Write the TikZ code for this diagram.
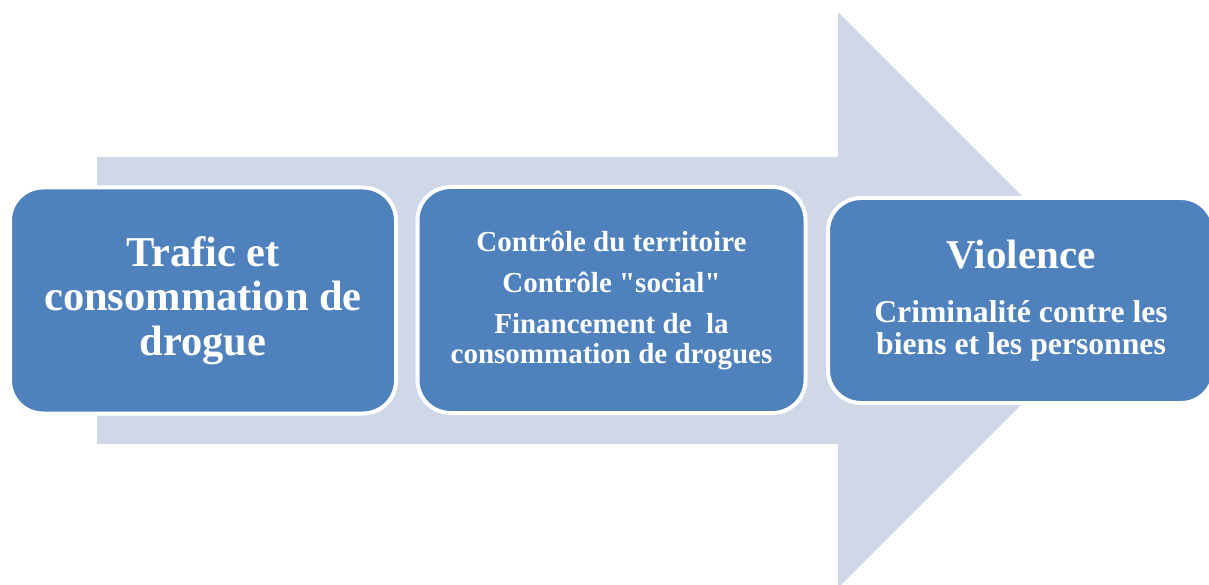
\documentclass[tikz,border=0pt]{standalone}
\usepackage{fontspec}
\setmainfont{Liberation Serif}[Ligatures=TeXOff]
\definecolor{boxblue}{HTML}{4F81BD}
\definecolor{arrowgray}{HTML}{D0D8E8}
\tikzset{
  stagebox/.style={draw=white, line width=4pt, fill=boxblue, rounded corners=33pt,
    text=white, align=center, inner sep=0pt},
}
\begin{document}
\begin{tikzpicture}[x=1pt,y=-1pt]
\useasboundingbox (0,0) rectangle (1209,585);
\begin{scope}
\clip (0,0) rectangle (1209,585);
\fill[arrowgray] (97,157) -- (838,157) -- (838,12) -- (1126,300) -- (838,588) -- (838,444) -- (97,444) -- cycle;
\node[stagebox, minimum width=386pt, minimum height=226pt,
  font=\bfseries\fontsize{42.5}{44.5}\selectfont] (b1) at (203,300.5)
  {Trafic et\\consommation de\\drogue};
\node[stagebox, minimum width=388pt, minimum height=226pt,
  font=\bfseries\fontsize{29}{30}\selectfont] (b2) at (611.5,300)
  {Contrôle du territoire\\[11pt]Contrôle "social"\\[11pt]Financement de\ \ la\\consommation de drogues};
\node[stagebox, minimum width=386pt, minimum height=205pt,
  font=\bfseries\fontsize{31.7}{32}\selectfont] (b3) at (1021,300.5)
  {{\fontsize{41}{41}\selectfont Violence}\\[22pt]Criminalité contre les\\biens et les personnes};
\end{scope}
\end{tikzpicture}
\end{document}
